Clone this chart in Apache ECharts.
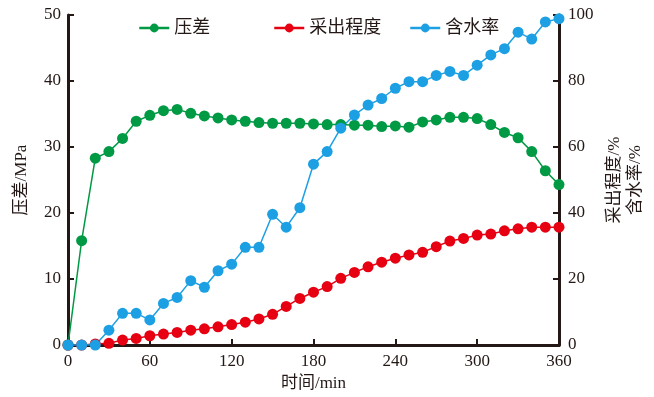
<!DOCTYPE html>
<html>
<head>
<meta charset="utf-8">
<script src="https://cdn.jsdelivr.net/npm/echarts@6/dist/echarts.min.js"></script>
<style>
  html, body { margin: 0; padding: 0; background: #fff; }
  #chart { width: 654px; height: 397px; }
</style>
</head>
<body>
<div id="chart"></div>
<script>
// 时间/min
const times = [0, 10, 20, 30, 40, 50, 60, 70, 80, 90, 100, 110, 120, 130, 140, 150, 160, 170, 180,
  190, 200, 210, 220, 230, 240, 250, 260, 270, 280, 290, 300, 310, 320, 330, 340, 350, 360];
// 压差/MPa
const pressureDiff = [0, 15.8, 28.3, 29.3, 31.3, 33.9, 34.8, 35.5, 35.7, 35.1, 34.7, 34.4, 34.1, 33.9, 33.7, 33.6, 33.6, 33.6, 33.5,
  33.4, 33.4, 33.3, 33.3, 33.1, 33.2, 33.0, 33.8, 34.1, 34.5, 34.5, 34.3, 33.4, 32.2, 31.4, 29.3, 26.4, 24.3];
// 采出程度/%
const recovery = [0, 0, 0.3, 0.5, 1.5, 2.0, 2.8, 3.3, 3.8, 4.5, 4.9, 5.5, 6.2, 6.9, 7.9, 9.3, 11.7, 14.1, 16.0,
  17.7, 20.2, 22.0, 23.7, 25.1, 26.3, 27.3, 28.1, 29.8, 31.5, 32.3, 33.3, 33.6, 34.6, 35.2, 35.7, 35.7, 35.7];
// 含水率/%
const waterCut = [0, 0, 0, 4.5, 9.6, 9.6, 7.6, 12.6, 14.4, 19.5, 17.5, 22.5, 24.5, 29.6, 29.6, 39.6, 35.7, 41.6, 54.8,
  58.6, 65.7, 69.7, 72.7, 74.7, 77.8, 79.8, 79.8, 81.7, 82.9, 81.7, 84.8, 87.9, 89.8, 94.8, 92.7, 97.9, 98.9];

const FONT = '"Liberation Serif", "Noto Sans CJK SC", serif';
const TEXT = '#231815';

function pairs(vals) {
  return times.map((t, i) => [t, vals[i]]);
}

const chart = echarts.init(document.getElementById('chart'));

const axisLine = { show: true, lineStyle: { color: '#231815', width: 3 } };
const axisTick = { show: true, inside: true, length: 6, lineStyle: { color: '#231815', width: 2 } };
const axisLabel = { color: TEXT, fontFamily: FONT, fontSize: 17 };

function legendItem(name, left) {
  return {
    data: [name],
    left: left,
    top: 14,
    itemWidth: 30,
    itemHeight: 11,
    itemGap: 6,
    itemStyle: { borderWidth: 0 },
    lineStyle: { width: 2.5 },
    textStyle: { color: TEXT, fontFamily: FONT, fontSize: 18 }
  };
}

chart.setOption({
  animation: false,
  color: ['#009944', '#e60012', '#1ca0e3'],
  grid: { left: 68, right: 95, top: 15, bottom: 52, outerBoundsMode: 'none' },
  legend: [
    legendItem('压差', 133),
    legendItem('采出程度', 268),
    legendItem('含水率', 404)
  ],
  xAxis: {
    type: 'value',
    min: 0,
    max: 360,
    interval: 60,
    name: '时间/min',
    nameLocation: 'middle',
    nameGap: 30,
    nameTextStyle: { color: TEXT, fontFamily: FONT, fontSize: 17 },
    axisLine: axisLine,
    axisTick: axisTick,
    axisLabel: Object.assign({ margin: 8 }, axisLabel),
    splitLine: { show: false }
  },
  yAxis: [
    {
      type: 'value',
      min: 0,
      max: 50,
      interval: 10,
      name: '压差/MPa',
      nameLocation: 'middle',
      nameRotate: 90,
      nameGap: 38,
      nameTextStyle: { color: TEXT, fontFamily: FONT, fontSize: 17 },
      axisLine: axisLine,
      axisTick: axisTick,
      axisLabel: Object.assign({ margin: 7 }, axisLabel),
      splitLine: { show: false }
    },
    {
      type: 'value',
      position: 'right',
      min: 0,
      max: 100,
      interval: 20,
      name: '采出程度/%\n含水率/%',
      nameLocation: 'middle',
      nameRotate: 90,
      nameGap: 42,
      nameTextStyle: { color: TEXT, fontFamily: FONT, fontSize: 17, lineHeight: 21, align: 'center' },
      axisLine: axisLine,
      axisTick: axisTick,
      axisLabel: Object.assign({ margin: 9 }, axisLabel),
      splitLine: { show: false }
    }
  ],
  series: [
    {
      name: '压差',
      type: 'line',
      yAxisIndex: 0,
      data: pairs(pressureDiff),
      symbol: 'circle',
      symbolSize: 11,
      showAllSymbol: true,
      lineStyle: { width: 1.5 }
    },
    {
      name: '采出程度',
      type: 'line',
      yAxisIndex: 1,
      data: pairs(recovery),
      symbol: 'circle',
      symbolSize: 11,
      showAllSymbol: true,
      lineStyle: { width: 1.5 }
    },
    {
      name: '含水率',
      type: 'line',
      yAxisIndex: 1,
      data: pairs(waterCut),
      symbol: 'circle',
      symbolSize: 11,
      showAllSymbol: true,
      lineStyle: { width: 1.5 }
    }
  ]
});
</script>
</body>
</html>
